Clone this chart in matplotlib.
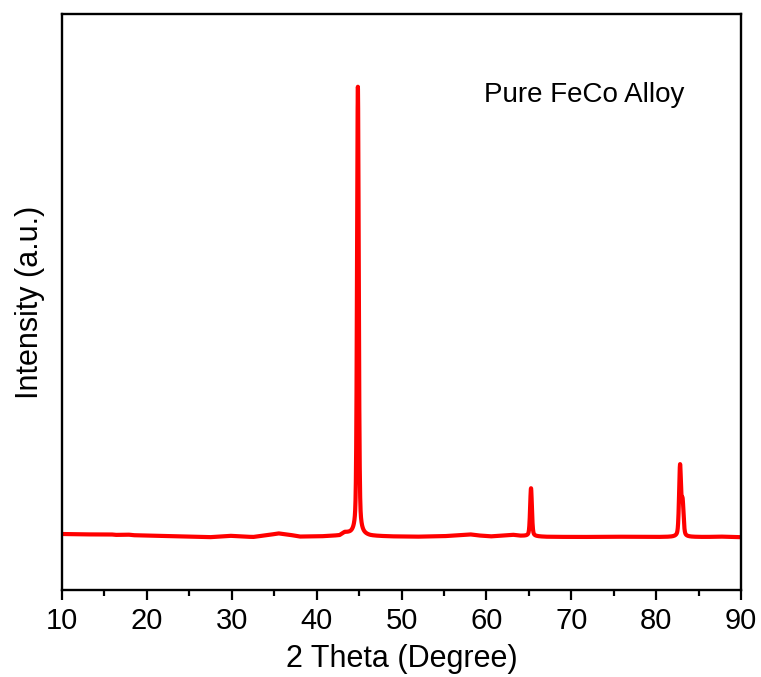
import numpy as np
import matplotlib
matplotlib.use("Agg")
import matplotlib.pyplot as plt
from matplotlib.ticker import MultipleLocator

plt.rcParams['font.family'] = ['Liberation Sans', 'DejaVu Sans']

# Background level of the pattern (2θ in degrees, counts)
bg_theta = [10, 12.5, 15.8, 16.3, 17.8, 18.4, 21.5, 24.0, 27.4, 29.8, 31.0, 32.5,
            34.5, 35.5, 36.8, 38.0, 40.5, 42.7, 43.3, 44.0,
            46.3, 49.0, 52.0, 55.0, 58.1, 59.0, 60.5, 63.1, 64.0,
            67.0, 71.0, 75.0, 80.0, 86.0, 87.5, 90]
bg_counts = [830, 826, 826, 821, 824, 818, 812, 806, 798, 812, 806, 800,
             822, 836, 822, 804, 806, 814, 842, 830,
             810, 805, 803, 808, 826, 816, 806, 822, 812,
             802, 800, 803, 800, 800, 804, 798]

# Reflections of the bcc FeCo phase: position, peak height above background, FWHM
peak_pos = [44.86, 65.26, 82.82, 83.12]
peak_height = [4480, 480, 700, 330]
peak_fwhm = [0.24, 0.25, 0.27, 0.27]

theta = np.linspace(10, 90, 8001)
counts = np.interp(theta, bg_theta, bg_counts)
for c, h, w in zip(peak_pos, peak_height, peak_fwhm):
    g = np.exp(-4 * np.log(2) * ((theta - c) / w) ** 2)
    l = 1.0 / (1.0 + 4 * ((theta - c) / w) ** 2)
    counts = counts + h * (0.6 * g + 0.4 * l)

fig = plt.figure(figsize=(7.61, 6.77), dpi=100)
ax = fig.add_axes([0.0815, 0.1285, 0.8922, 0.8508])
ax.plot(theta, counts, color='#ff0000', lw=3.0, solid_joinstyle='round')

ax.set_xlim(10, 90)
ax.set_ylim(270, 6030)
ax.xaxis.set_major_locator(MultipleLocator(10))
ax.xaxis.set_minor_locator(MultipleLocator(5))
ax.tick_params(axis='x', which='major', direction='out', length=7, width=1.6,
               labelsize=21, pad=5)
ax.tick_params(axis='x', which='minor', direction='out', length=4, width=1.6)
ax.set_yticks([])
for s in ax.spines.values():
    s.set_linewidth(1.7)

ax.set_xlabel('2 Theta (Degree)', fontsize=22, labelpad=7)
ax.set_ylabel('Intensity (a.u.)', fontsize=22, labelpad=12)
ax.text(0.621, 0.859, 'Pure FeCo Alloy', transform=ax.transAxes, fontsize=20,
        ha='left', va='center')

fig.savefig('out.png', dpi=100)
